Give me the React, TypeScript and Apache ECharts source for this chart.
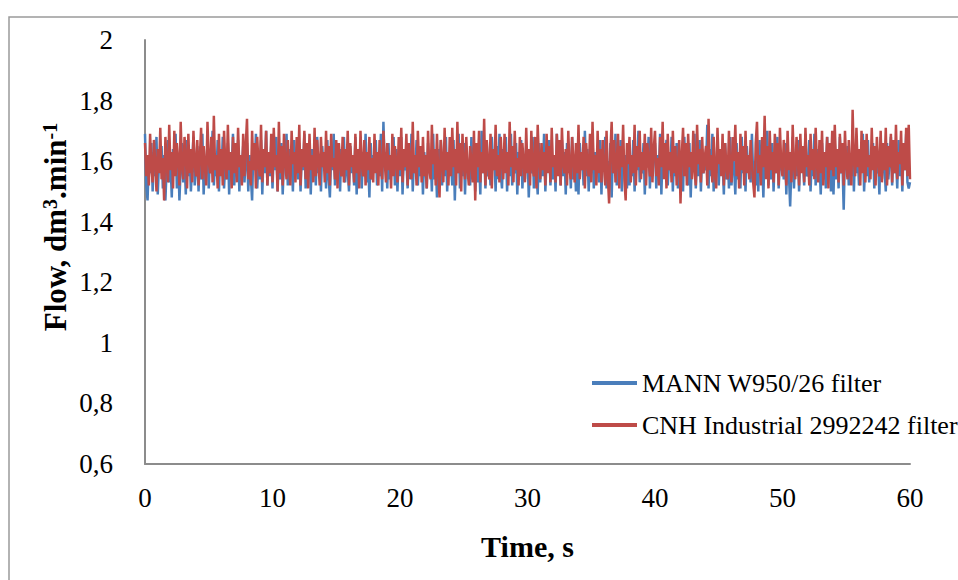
import React, { useEffect, useRef } from "react";
import * as echarts from "echarts";

const DURATION = 60; // s, recording length (samples evenly spaced over it)
const xTicks = [0, 10, 20, 30, 40, 50, 60];
const yTickLabels = ["0,6", "0,8", "1", "1,2", "1,4", "1,6", "1,8", "2"];
const seriesNames = ["MANN W950/26 filter", "CNH Industrial 2992242 filter"];

const mannFlow = [
  1.69,1.52,1.47,1.61,1.56,1.66,1.50,1.63,1.55,1.68,1.49,1.60,1.57,1.65,1.51,1.62,1.47,1.58,1.67,1.53,
  1.60,1.48,1.64,1.56,1.69,1.51,1.62,1.47,1.58,1.66,1.53,1.61,1.49,1.67,1.55,1.63,1.50,1.59,1.68,1.52,
  1.57,1.65,1.50,1.62,1.54,1.69,1.49,1.60,1.56,1.66,1.51,1.63,1.58,1.70,1.52,1.61,1.55,1.67,1.50,1.64,
  1.56,1.68,1.51,1.60,1.54,1.66,1.49,1.63,1.57,1.69,1.52,1.61,1.55,1.67,1.50,1.62,1.58,1.65,1.53,1.60,
  1.66,1.50,1.62,1.55,1.47,1.64,1.57,1.69,1.51,1.60,1.54,1.67,1.49,1.63,1.56,1.70,1.52,1.61,1.55,1.65,
  1.51,1.63,1.57,1.68,1.50,1.62,1.54,1.66,1.49,1.60,1.58,1.69,1.52,1.64,1.55,1.61,1.50,1.67,1.56,1.62,
  1.54,1.66,1.50,1.63,1.57,1.69,1.51,1.61,1.55,1.67,1.49,1.64,1.58,1.60,1.52,1.68,1.56,1.62,1.50,1.65,
  1.58,1.63,1.51,1.67,1.55,1.48,1.62,1.57,1.69,1.52,1.60,1.54,1.66,1.50,1.64,1.56,1.68,1.53,1.61,1.57,
  1.50,1.65,1.56,1.62,1.52,1.68,1.49,1.61,1.55,1.67,1.51,1.63,1.57,1.69,1.53,1.60,1.48,1.66,1.54,1.62,
  1.57,1.67,1.52,1.61,1.55,1.69,1.50,1.73,1.58,1.63,1.51,1.66,1.54,1.60,1.56,1.68,1.52,1.64,1.50,1.62,
  1.55,1.68,1.49,1.63,1.57,1.60,1.51,1.66,1.54,1.69,1.50,1.62,1.56,1.67,1.52,1.61,1.55,1.65,1.49,1.63,
  1.58,1.51,1.66,1.56,1.62,1.50,1.69,1.54,1.60,1.48,1.64,1.57,1.67,1.52,1.61,1.55,1.68,1.50,1.63,1.56,
  1.60,1.52,1.67,1.47,1.63,1.56,1.69,1.51,1.61,1.55,1.66,1.49,1.64,1.57,1.60,1.52,1.68,1.54,1.62,1.50,
  1.66,1.53,1.61,1.49,1.70,1.56,1.63,1.51,1.67,1.55,1.60,1.52,1.68,1.57,1.62,1.50,1.65,1.54,1.69,1.56,
  1.51,1.64,1.57,1.68,1.50,1.62,1.55,1.69,1.52,1.60,1.56,1.66,1.49,1.63,1.58,1.67,1.51,1.61,1.54,1.65,
  1.63,1.48,1.60,1.56,1.68,1.51,1.64,1.57,1.49,1.66,1.53,1.62,1.55,1.69,1.50,1.61,1.57,1.67,1.52,1.63,
  1.54,1.62,1.50,1.69,1.56,1.60,1.52,1.67,1.55,1.63,1.49,1.66,1.57,1.61,1.51,1.68,1.54,1.62,1.50,1.65,
  1.49,1.66,1.57,1.61,1.52,1.70,1.55,1.64,1.50,1.62,1.56,1.68,1.51,1.63,1.58,1.60,1.53,1.67,1.49,1.64,
  1.57,1.68,1.51,1.60,1.54,1.66,1.48,1.63,1.56,1.69,1.52,1.61,1.55,1.67,1.50,1.64,1.57,1.62,1.51,1.66,
  1.52,1.61,1.55,1.67,1.50,1.64,1.57,1.70,1.53,1.60,1.56,1.66,1.49,1.63,1.58,1.68,1.51,1.62,1.55,1.65,
  1.66,1.51,1.62,1.56,1.69,1.49,1.64,1.55,1.61,1.67,1.52,1.60,1.57,1.68,1.50,1.63,1.55,1.66,1.51,1.62,
  1.53,1.60,1.50,1.68,1.56,1.63,1.52,1.66,1.48,1.62,1.57,1.69,1.51,1.61,1.55,1.67,1.50,1.64,1.56,1.60,
  1.57,1.72,1.51,1.64,1.55,1.69,1.50,1.61,1.56,1.67,1.52,1.63,1.58,1.60,1.49,1.66,1.54,1.62,1.51,1.68,
  1.52,1.63,1.58,1.49,1.66,1.54,1.60,1.51,1.68,1.56,1.62,1.50,1.65,1.57,1.61,1.53,1.69,1.55,1.60,1.52,
  1.62,1.50,1.67,1.55,1.61,1.48,1.65,1.57,1.70,1.52,1.60,1.54,1.66,1.50,1.63,1.56,1.68,1.51,1.61,1.57,
  1.60,1.54,1.66,1.49,1.63,1.56,1.45,1.58,1.68,1.51,1.62,1.55,1.67,1.50,1.64,1.57,1.61,1.52,1.69,1.55,
  1.56,1.67,1.50,1.61,1.55,1.69,1.52,1.64,1.57,1.60,1.49,1.66,1.54,1.62,1.51,1.68,1.56,1.63,1.50,1.65,
  1.49,1.66,1.54,1.62,1.51,1.68,1.56,1.60,1.44,1.63,1.57,1.65,1.52,1.61,1.55,1.67,1.50,1.64,1.56,1.62,
  1.52,1.63,1.57,1.69,1.50,1.61,1.55,1.67,1.53,1.62,1.58,1.66,1.51,1.64,1.56,1.60,1.49,1.68,1.54,1.63,
  1.58,1.50,1.66,1.54,1.60,1.68,1.52,1.63,1.56,1.61,1.51,1.67,1.55,1.62,1.50,1.65,1.57,1.69,1.53,1.51,
  1.53,
];

const cnhFlow = [
  1.66,1.55,1.62,1.52,1.69,1.58,1.53,1.67,1.60,1.50,1.64,1.56,1.71,1.54,1.61,1.47,1.68,1.59,1.53,1.72,
  1.57,1.63,1.51,1.70,1.55,1.66,1.60,1.52,1.73,1.58,1.54,1.68,1.62,1.51,1.69,1.56,1.64,1.53,1.70,1.59,
  1.55,1.67,1.52,1.61,1.71,1.54,1.65,1.58,1.52,1.73,1.60,1.56,1.68,1.53,1.75,1.57,1.62,1.51,1.69,1.55,
  1.64,1.52,1.70,1.59,1.54,1.72,1.57,1.63,1.51,1.68,1.56,1.66,1.53,1.71,1.58,1.62,1.52,1.69,1.55,1.65,
  1.74,1.54,1.60,1.52,1.70,1.57,1.66,1.51,1.68,1.59,1.55,1.72,1.53,1.64,1.58,1.70,1.52,1.63,1.56,1.69,
  1.53,1.71,1.58,1.62,1.50,1.73,1.56,1.65,1.52,1.69,1.60,1.54,1.67,1.57,1.52,1.70,1.59,1.63,1.53,1.68,
  1.56,1.72,1.52,1.64,1.58,1.70,1.54,1.66,1.51,1.69,1.57,1.62,1.53,1.71,1.55,1.67,1.60,1.52,1.68,1.58,
  1.63,1.53,1.70,1.56,1.65,1.52,1.69,1.58,1.61,1.54,1.67,1.51,1.66,1.59,1.55,1.68,1.53,1.64,1.57,1.70,
  1.52,1.66,1.58,1.62,1.53,1.69,1.56,1.64,1.51,1.70,1.59,1.55,1.67,1.52,1.63,1.57,1.68,1.54,1.61,1.53,
  1.69,1.56,1.63,1.52,1.67,1.58,1.54,1.70,1.60,1.53,1.66,1.57,1.62,1.51,1.69,1.55,1.65,1.59,1.53,1.68,
  1.57,1.71,1.53,1.64,1.58,1.69,1.52,1.66,1.60,1.54,1.73,1.56,1.62,1.52,1.70,1.58,1.65,1.53,1.68,1.55,
  1.62,1.51,1.70,1.57,1.54,1.72,1.59,1.64,1.52,1.69,1.56,1.48,1.67,1.60,1.53,1.71,1.57,1.63,1.52,1.68,
  1.55,1.71,1.58,1.64,1.52,1.73,1.56,1.66,1.50,1.69,1.59,1.54,1.68,1.57,1.52,1.65,1.60,1.53,1.70,1.47,
  1.66,1.58,1.70,1.53,1.63,1.56,1.74,1.52,1.67,1.59,1.54,1.69,1.51,1.64,1.57,1.72,1.55,1.62,1.53,1.68,
  1.59,1.54,1.69,1.56,1.63,1.52,1.73,1.58,1.65,1.53,1.70,1.57,1.61,1.52,1.68,1.55,1.66,1.59,1.53,1.71,
  1.56,1.64,1.52,1.70,1.58,1.55,1.68,1.51,1.72,1.60,1.54,1.66,1.57,1.63,1.52,1.69,1.56,1.65,1.53,1.71,
  1.58,1.62,1.53,1.69,1.55,1.67,1.52,1.71,1.59,1.56,1.64,1.52,1.70,1.57,1.54,1.68,1.60,1.53,1.66,1.56,
  1.72,1.54,1.63,1.57,1.68,1.51,1.66,1.59,1.55,1.69,1.53,1.73,1.57,1.62,1.52,1.70,1.56,1.64,1.53,1.67,
  1.58,1.52,1.70,1.55,1.46,1.63,1.73,1.56,1.67,1.53,1.60,1.69,1.51,1.65,1.58,1.72,1.54,1.47,1.66,1.59,
  1.68,1.53,1.62,1.56,1.72,1.52,1.65,1.58,1.70,1.54,1.63,1.57,1.69,1.52,1.66,1.60,1.55,1.71,1.53,1.64,
  1.70,1.55,1.61,1.52,1.68,1.58,1.73,1.54,1.66,1.51,1.69,1.57,1.63,1.53,1.70,1.56,1.65,1.52,1.59,1.67,
  1.46,1.62,1.71,1.55,1.66,1.52,1.69,1.58,1.63,1.54,1.70,1.57,1.52,1.72,1.59,1.64,1.53,1.68,1.56,1.61,
  1.65,1.52,1.74,1.57,1.62,1.53,1.68,1.56,1.51,1.71,1.59,1.64,1.55,1.69,1.52,1.66,1.58,1.54,1.70,1.57,
  1.53,1.68,1.60,1.72,1.55,1.63,1.51,1.69,1.57,1.65,1.52,1.70,1.56,1.62,1.54,1.67,1.59,1.53,1.48,1.66,
  1.73,1.56,1.62,1.52,1.68,1.58,1.75,1.54,1.65,1.51,1.70,1.57,1.63,1.53,1.69,1.56,1.66,1.52,1.71,1.59,
  1.55,1.67,1.60,1.52,1.70,1.57,1.63,1.53,1.72,1.58,1.54,1.68,1.61,1.52,1.69,1.56,1.65,1.53,1.71,1.58,
  1.62,1.52,1.69,1.57,1.64,1.54,1.71,1.59,1.53,1.67,1.56,1.70,1.52,1.63,1.58,1.68,1.51,1.66,1.57,1.70,
  1.55,1.72,1.58,1.64,1.53,1.69,1.56,1.66,1.52,1.70,1.59,1.54,1.67,1.57,1.52,1.77,1.60,1.55,1.71,1.58,
  1.64,1.52,1.70,1.56,1.67,1.53,1.69,1.58,1.62,1.54,1.71,1.57,1.65,1.52,1.68,1.60,1.55,1.70,1.53,1.66,
  1.57,1.71,1.52,1.65,1.58,1.69,1.53,1.67,1.56,1.72,1.54,1.63,1.59,1.70,1.52,1.66,1.57,1.71,1.55,1.72,
  1.54,
];

const BLUE = "#4A7EBB";
const RED = "#BE4B48";
const AXIS_GRAY = "#8C8C8C";
const SERIF = "'Liberation Serif', 'Times New Roman', serif";

function toPoints(values: number[]) {
  const step = DURATION / (values.length - 1);
  return values.map((v, i) => [Number((i * step).toFixed(3)), v]);
}

function fmtY(v: number) {
  const idx = Math.round((v - 0.6) / 0.2);
  return yTickLabels[idx] ?? String(v);
}

export default function App() {
  const ref = useRef<HTMLDivElement>(null);

  useEffect(() => {
    document.body.style.margin = "0";
    if (!ref.current) return;
    const chart = echarts.init(ref.current, null, { renderer: "svg" });
    chart.setOption({
      animation: false,
      backgroundColor: "#ffffff",
      grid: { left: 145, right: 48, top: 40, bottom: 116, containLabel: false },
      legend: {
        orient: "vertical",
        left: 587,
        top: 365,
        itemWidth: 45,
        itemHeight: 4,
        itemGap: 16,
        icon: "rect",
        textStyle: { fontFamily: SERIF, fontSize: 26, color: "#000" },
        data: [
          { name: seriesNames[0], itemStyle: { color: BLUE } },
          { name: seriesNames[1], itemStyle: { color: RED } },
        ],
      },
      xAxis: {
        type: "value",
        min: xTicks[0],
        max: xTicks[xTicks.length - 1],
        interval: 10,
        name: "Time, s",
        nameLocation: "middle",
        nameGap: 67,
        nameTextStyle: { fontFamily: SERIF, fontSize: 30, fontWeight: "bold", color: "#000" },
        axisLine: { show: true, lineStyle: { color: AXIS_GRAY, width: 2 } },
        axisTick: { show: false },
        splitLine: { show: false },
        axisLabel: { fontFamily: SERIF, fontSize: 27, color: "#000", margin: 20 },
      },
      yAxis: {
        type: "value",
        min: 0.6,
        max: 2,
        interval: 0.2,
        axisLine: { show: true, lineStyle: { color: AXIS_GRAY, width: 2 } },
        axisTick: { show: false },
        splitLine: { show: false },
        axisLabel: {
          fontFamily: SERIF,
          fontSize: 27,
          color: "#000",
          margin: 32,
          formatter: (v: number) => fmtY(v),
        },
      },
      graphic: [
        {
          type: "rect",
          shape: { x: 9, y: 17, width: 1000, height: 700 },
          style: { fill: "none", stroke: "#9a9a9a", lineWidth: 1.5 },
          silent: true,
          z: -1,
        },
        {
          type: "text",
          x: 55,
          y: 227,
          rotation: Math.PI / 2,
          style: {
            text: "{b|Flow, dm}{s|3}{b|.min}{s|-1}",
            align: "center",
            verticalAlign: "middle",
            rich: {
              b: { fontFamily: SERIF, fontSize: 31, fontWeight: "bold", fill: "#000", color: "#000" },
              s: {
                fontFamily: SERIF,
                fontSize: 20,
                fontWeight: "bold",
                fill: "#000",
                color: "#000",
                verticalAlign: "top",
              },
            },
          },
        },
      ],
      series: [
        {
          name: seriesNames[0],
          type: "line",
          data: toPoints(mannFlow),
          showSymbol: false,
          symbol: "none",
          lineStyle: { color: BLUE, width: 2.5 },
          itemStyle: { color: BLUE },
          z: 2,
        },
        {
          name: seriesNames[1],
          type: "line",
          data: toPoints(cnhFlow),
          showSymbol: false,
          symbol: "none",
          lineStyle: { color: RED, width: 2.5 },
          itemStyle: { color: RED },
          z: 3,
        },
      ],
    });
    return () => chart.dispose();
  }, []);

  return (
    <div
      ref={ref}
      style={{ position: "absolute", left: 0, top: 0, width: 958, height: 580 }}
    />
  );
}
